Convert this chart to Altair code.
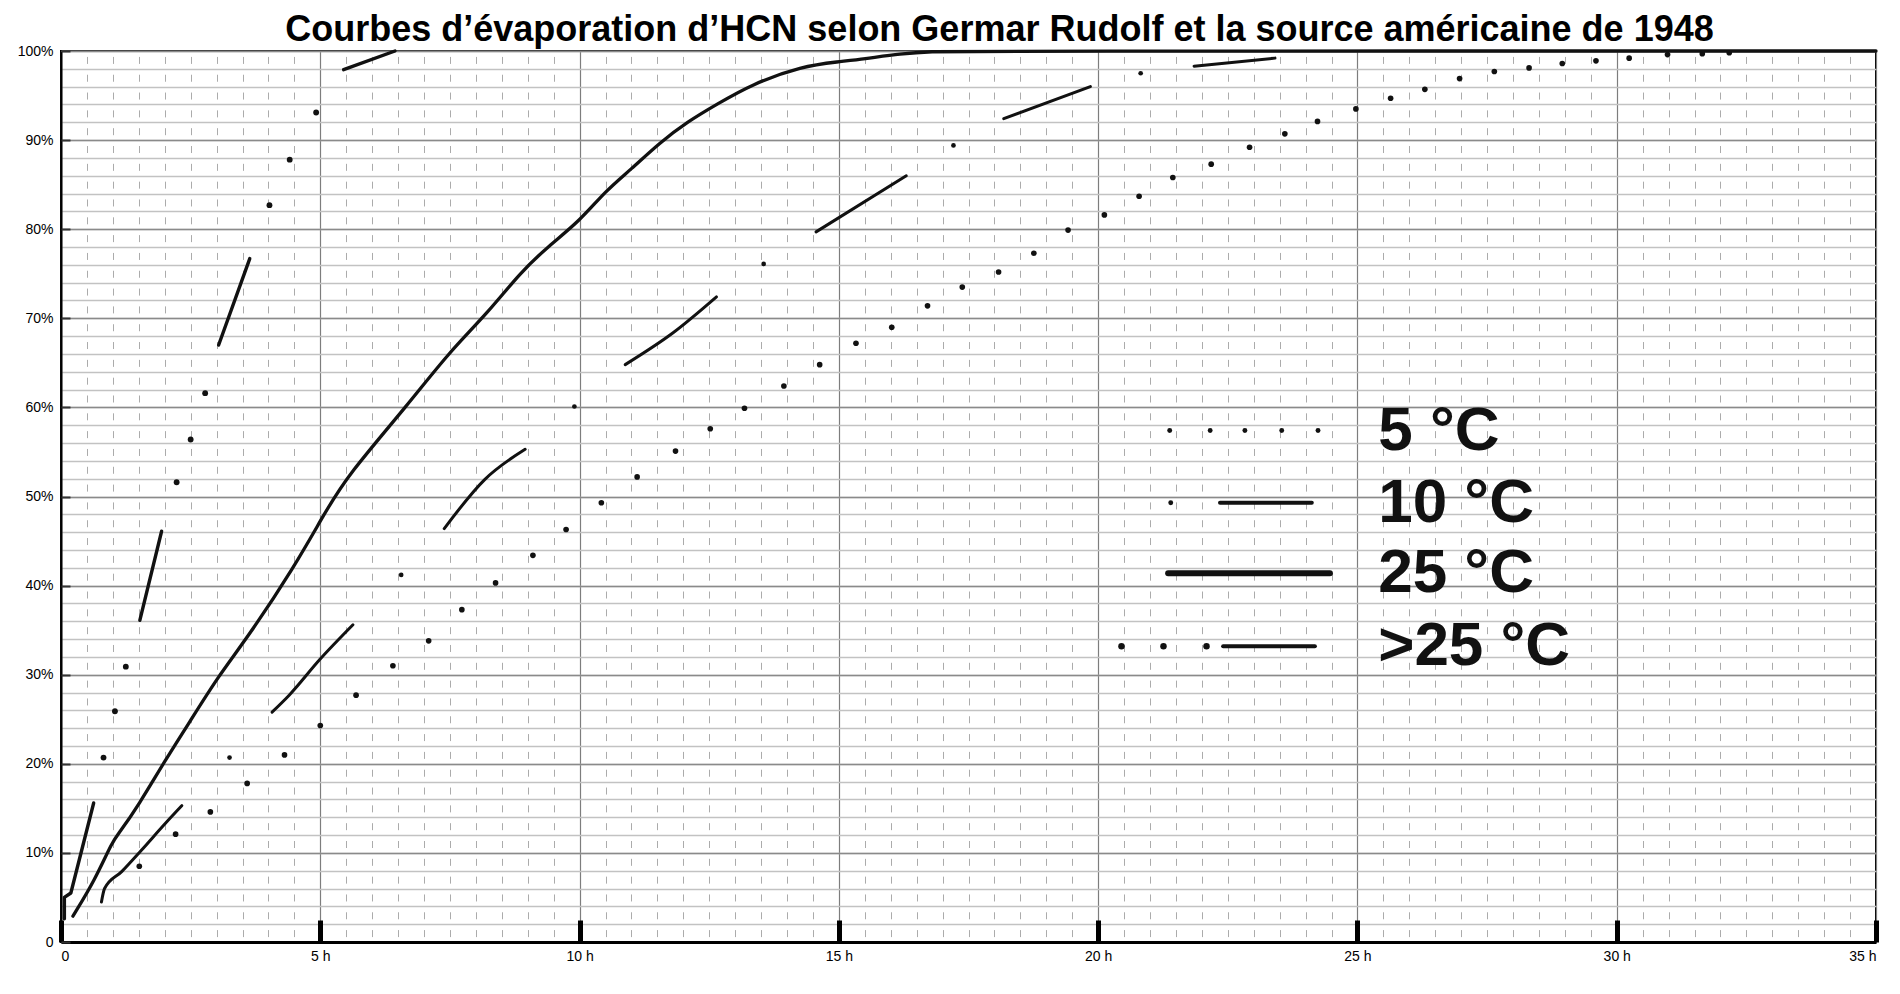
import altair as alt
import pandas as pd

TITLE = "Courbes d’évaporation d’HCN selon Germar Rudolf et la source américaine de 1948"

# ---------------- data (hours, %) ----------------
# 25 °C : continuous solid curve
h25 = [0.23, 0.65, 1.0, 1.13, 1.49, 2.01, 2.46, 3.04, 3.59, 4.5, 5.08, 5.53, 6.69, 7.47,
       8.23, 8.85, 9.4, 10.0, 10.5, 10.99, 11.54, 12.09, 12.64, 13.33, 14.29, 15.0,
       15.47, 16.2, 16.8, 17.4, 35.0]
p25 = [2.9, 6.9, 11.4, 12.3, 15.3, 20.4, 24.5, 29.9, 34.1, 42.1, 48.1, 52.4, 60.3, 66.1,
       70.6, 75.1, 78.1, 80.9, 84.3, 86.7, 89.7, 92.1, 94.0, 96.3, 98.3, 98.8,
       99.1, 99.7, 99.95, 100.0, 100.0]

# 10 °C : dashes (piece id) + single dots between them
h10_seg = [0.78, 0.84, 1.17, 1.55, 2.01, 2.33,
           4.07, 4.40, 4.99, 5.63,
           7.39, 8.17, 8.95,
           10.88, 11.81, 12.64,
           14.56, 16.3,
           18.18, 19.85,
           21.85, 23.41]
p10_seg = [4.5, 6.0, 7.9, 10.3, 13.3, 15.3,
           25.8, 27.7, 31.7, 35.6,
           46.4, 51.9, 55.3,
           64.8, 68.4, 72.4,
           79.7, 86.0,
           92.4, 96.0,
           98.3, 99.2]
id10_seg = [1, 1, 1, 1, 1, 1,
            2, 2, 2, 2,
            3, 3, 3,
            4, 4, 4,
            5, 5,
            6, 6,
            7, 7]
h10_dot = [3.25, 6.56, 9.9, 13.55, 17.21, 20.82]
p10_dot = [20.7, 41.2, 60.1, 76.1, 89.4, 97.5]

# >25 °C : dashes + groups of three dots
hgt_seg = [0.065, 0.065, 0.19, 0.63,
           1.52, 1.94,
           3.04, 3.64,
           5.45, 6.44]
pgt_seg = [2.6, 5.0, 5.5, 15.6,
           36.1, 46.1,
           67.0, 76.7,
           97.9, 100.0]
idgt_seg = [1, 1, 1, 1, 2, 2, 3, 3, 4, 4]
hgt_dot = [0.82, 1.04, 1.25, 2.23, 2.50, 2.78, 4.02, 4.41, 4.92]
pgt_dot = [20.7, 25.9, 30.9, 51.6, 56.4, 61.6, 82.7, 87.8, 93.1]

# 5 °C : dotted
h5 = [1.51, 2.21, 2.88, 3.59, 4.31, 5.00, 5.69, 6.40, 7.09, 7.73, 8.38, 9.10, 9.74, 10.42,
      11.11, 11.85, 12.52, 13.18, 13.94, 14.63, 15.33, 16.02, 16.71, 17.38, 18.08, 18.76,
      19.42, 20.12, 20.79, 21.44, 22.18, 22.92, 23.60, 24.23, 24.97, 25.64, 26.30, 26.97,
      27.64, 28.31, 28.95, 29.60, 30.24, 30.98, 31.65, 32.17]
p5 = [8.5, 12.1, 14.6, 17.8, 21.0, 24.3, 27.7, 31.0, 33.8, 37.3, 40.3, 43.4, 46.3, 49.3,
      52.2, 55.1, 57.6, 59.9, 62.4, 64.8, 67.2, 69.0, 71.4, 73.5, 75.2, 77.3,
      79.9, 81.6, 83.7, 85.8, 87.3, 89.2, 90.7, 92.1, 93.5, 94.7, 95.7, 96.9,
      97.7, 98.1, 98.6, 98.9, 99.2, 99.6, 99.7, 99.8]

# legend drawn inside the plot (hours, %)
leg_labels = ["5 °C", "10 °C", "25 °C", ">25 °C"]
leg_y = [57.4, 49.3, 41.4, 33.2]
leg_text_h = [25.4, 25.4, 25.4, 25.4]
leg_line_serie = ["10 °C", "25 °C", ">25 °C"]
leg_line_h1 = [22.35, 21.35, 22.41]
leg_line_h2 = [24.12, 24.47, 24.18]
leg_line_y = [49.3, 41.4, 33.2]
leg_dot_h = [21.38, 22.16, 22.83, 23.54, 24.24, 21.40, 20.45, 21.26, 22.09]
leg_dot_y = [57.4, 57.4, 57.4, 57.4, 57.4, 49.3, 33.2, 33.2, 33.2]
leg_dot_serie = ["5 °C"] * 5 + ["10 °C"] + [">25 °C"] * 3

# axis tick values
x_major = [0, 5, 10, 15, 20, 25, 30, 35]
x_minor = [v / 2 for v in range(0, 71)]
y_major = [0, 10, 20, 30, 40, 50, 60, 70, 80, 90, 100]
y_minor = list(range(0, 101, 2))

# ---------------- tables ----------------
df25 = pd.DataFrame({"h": h25, "p": p25})
df10s = pd.DataFrame({"h": h10_seg, "p": p10_seg, "piece": id10_seg})
df10d = pd.DataFrame({"h": h10_dot, "p": p10_dot})
dfgts = pd.DataFrame({"h": hgt_seg, "p": pgt_seg, "piece": idgt_seg})
dfgtd = pd.DataFrame({"h": hgt_dot, "p": pgt_dot})
df5 = pd.DataFrame({"h": h5, "p": p5})
dflt = pd.DataFrame({"h": leg_text_h, "p": leg_y, "label": leg_labels})
dfll = pd.DataFrame({"h": leg_line_h1, "h2": leg_line_h2, "p": leg_line_y, "serie": leg_line_serie})
dfld = pd.DataFrame({"h": leg_dot_h, "p": leg_dot_y, "serie": leg_dot_serie})

FONT = "Liberation Sans"
INK = "#111111"

xs = alt.Scale(domain=[0, 35], nice=False, zero=False)
ys = alt.Scale(domain=[0, 100], nice=False, zero=False)

ax_x_minor = alt.Axis(orient="bottom", values=x_minor, grid=True, gridColor="#ababab",
                      gridWidth=1, gridDash=[7, 10.82], gridDashOffset=12.4,
                      labels=False, ticks=False, domain=False, title=None)
ax_y_minor = alt.Axis(orient="left", values=y_minor, grid=True, gridColor="#c2c2c2",
                      gridWidth=1.5, labels=False, ticks=False, domain=False, title=None)
ax_x_major = alt.Axis(orient="bottom", values=x_major, grid=True, gridColor="#7d7d7d",
                      gridWidth=1.2, ticks=False, domain=True, domainColor="black",
                      domainWidth=3, labelFont=FONT, labelFontSize=14, labelColor="black",
                      labelPadding=7,
                      labelExpr="datum.value == 0 ? '0' : datum.value + ' h'", title=None)
ax_y_major = alt.Axis(orient="left", values=y_major, grid=True, gridColor="#8a8a8a",
                      gridWidth=1.5, ticks=False, domain=True, domainColor="black",
                      domainWidth=2, labelFont=FONT, labelFontSize=14, labelColor="black",
                      labelPadding=8,
                      labelExpr="datum.value == 0 ? '0' : datum.value + '%'", title=None)
ax_x_blob = alt.Axis(orient="bottom", values=x_major, offset=-22, ticks=True, tickSize=22,
                     tickWidth=5, tickColor="black", labels=False, domain=False, grid=False,
                     title=None)
ax_y_tick = alt.Axis(orient="left", values=y_major, offset=-9, ticks=True, tickSize=9,
                     tickWidth=2, tickColor="#333333", labels=False, domain=False, grid=False,
                     title=None)

l5 = alt.Chart(df5).mark_circle(size=32, color=INK, opacity=1).encode(
    x=alt.X("h:Q", scale=xs, axis=ax_x_minor),
    y=alt.Y("p:Q", scale=ys, axis=ax_y_minor),
)
l25 = alt.Chart(df25).mark_line(color=INK, strokeWidth=3.3, strokeCap="round",
                                strokeJoin="round", interpolate="basis").encode(
    x=alt.X("h:Q", scale=xs, axis=ax_x_major),
    y=alt.Y("p:Q", scale=ys, axis=ax_y_major),
    order="h:Q",
)
l10s = alt.Chart(df10s).mark_line(color=INK, strokeWidth=3, strokeCap="round",
                                  strokeJoin="round", interpolate="monotone").encode(
    x=alt.X("h:Q", scale=xs, axis=ax_x_blob),
    y=alt.Y("p:Q", scale=ys, axis=ax_y_tick),
    detail="piece:N",
    order="h:Q",
)
l10d = alt.Chart(df10d).mark_circle(size=22, color=INK, opacity=1).encode(
    x=alt.X("h:Q", scale=xs, axis=None),
    y=alt.Y("p:Q", scale=ys, axis=None),
)
lgts = alt.Chart(dfgts).mark_line(color=INK, strokeWidth=3.4, strokeCap="round",
                                  strokeJoin="round").encode(
    x=alt.X("h:Q", scale=xs, axis=None),
    y=alt.Y("p:Q", scale=ys, axis=None),
    detail="piece:N",
)
lgtd = alt.Chart(dfgtd).mark_circle(size=34, color=INK, opacity=1).encode(
    x=alt.X("h:Q", scale=xs, axis=None),
    y=alt.Y("p:Q", scale=ys, axis=None),
)
leg_lines = alt.Chart(dfll).mark_rule(color=INK, strokeCap="round").encode(
    x=alt.X("h:Q", scale=xs, axis=None),
    x2="h2:Q",
    y=alt.Y("p:Q", scale=ys, axis=None),
    strokeWidth=alt.condition("datum.serie == '25 °C'", alt.value(6), alt.value(4)),
)
leg_dots = alt.Chart(dfld).mark_circle(color=INK, opacity=1).encode(
    x=alt.X("h:Q", scale=xs, axis=None),
    y=alt.Y("p:Q", scale=ys, axis=None),
    size=alt.condition("datum.serie == '>25 °C'", alt.value(42),
                       alt.value(24)),
)
leg_text = alt.Chart(dflt).mark_text(align="left", baseline="middle", font=FONT,
                                     fontSize=62, fontWeight="bold", color=INK).encode(
    x=alt.X("h:Q", scale=xs, axis=None),
    y=alt.Y("p:Q", scale=ys, axis=None),
    text="label:N",
)

chart = alt.layer(l5, l25, l10s, l10d, lgts, lgtd, leg_lines, leg_dots, leg_text).resolve_axis(
    x="independent", y="independent"
).properties(
    width=1815,
    height=891,
    autosize=alt.AutoSizeParams(type="none"),
    padding={"left": 53, "top": 43, "right": 16, "bottom": 40},
    title=alt.TitleParams(text=TITLE, font=FONT,
                          fontSize=36, fontWeight="bold", color="black", anchor="middle",
                          dx=31, dy=15, offset=10),
).configure_view(stroke="black", strokeWidth=2)

chart.save("out.html", embed_options={"renderer": "svg", "actions": False})
